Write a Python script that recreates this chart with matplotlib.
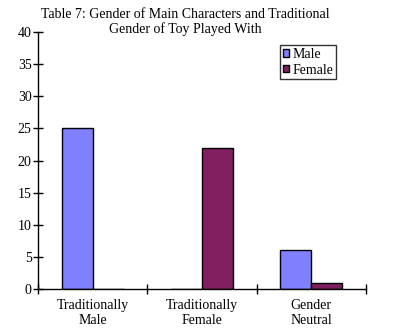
import matplotlib.pyplot as plt
import numpy as np

plt.rcParams["font.family"] = ["Liberation Serif", "DejaVu Serif"]

# data
categories = ["Traditionally\nMale", "Traditionally\nFemale", "Gender\nNeutral"]
male = [25, 0, 6]
female = [0, 22, 1]
series_names = ["Male", "Female"]
colors = ["#8080FF", "#802060"]

fig = plt.figure(figsize=(3.97, 3.33), dpi=100)
ax = fig.add_axes([38 / 397, 1 - 289 / 333, (366 - 38) / 397, (289 - 32) / 333])

centers = np.arange(len(categories)) + 0.5
w = 0.284
ax.bar(centers - w / 2, male, w, color=colors[0], edgecolor="black", linewidth=1,
       label=series_names[0])
ax.bar(centers + w / 2, female, w, color=colors[1], edgecolor="black", linewidth=1,
       label=series_names[1])

ax.set_xlim(0, len(categories))
ax.set_ylim(0, 40)
ax.set_yticks(np.arange(0, 41, 5))
ax.set_xticks(np.arange(0, len(categories) + 1))
ax.set_xticklabels([])
ax.set_xticks(centers, minor=True)
ax.set_xticklabels(categories, minor=True, linespacing=1.2)

ax.tick_params(axis="both", which="major", direction="inout", length=7, width=1,
               labelsize=10, pad=2)
ax.tick_params(axis="x", which="minor", length=0, labelsize=10, pad=7)
ax.tick_params(axis="y", pad=1)

for s in ["top", "right"]:
    ax.spines[s].set_visible(False)
for s in ["left", "bottom"]:
    ax.spines[s].set_linewidth(1)

leg = ax.legend(loc="upper left", bbox_to_anchor=((280 - 38) / 328, 1 - (45 - 32) / 257),
                fontsize=10, frameon=True, fancybox=False, edgecolor="black",
                handlelength=0.45, handleheight=0.45, handletextpad=0.25,
                borderpad=0.2, labelspacing=0.2, borderaxespad=0)
leg.get_frame().set_linewidth(1)

fig.text(185 / 397, 1 - 8 / 333,
         "Table 7: Gender of Main Characters and Traditional\nGender of Toy Played With",
         ha="center", va="top", fontsize=10, linespacing=1.1)

fig.savefig("out.png", dpi=100)
